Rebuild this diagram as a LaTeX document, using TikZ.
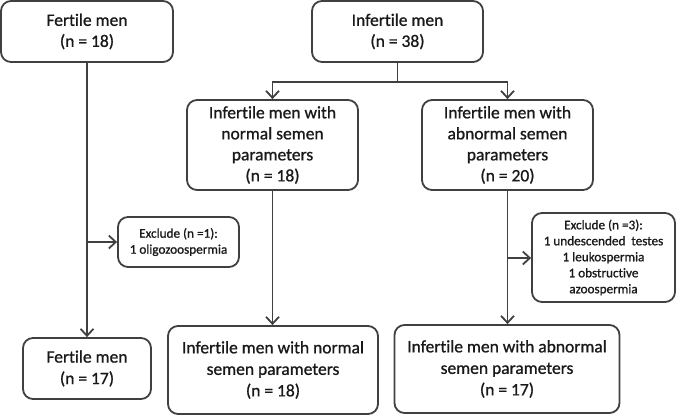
\documentclass[tikz,border=0pt]{standalone}
\usepackage{fontspec}
\setmainfont{Carlito}[Ligatures=NoCommon,FakeBold=1]
\usetikzlibrary{arrows.meta}
\definecolor{ln}{HTML}{404040}
\begin{document}
\begin{tikzpicture}[x=1pt,y=-1pt,
  box/.style={draw=ln,line width=1.8pt,rounded corners=10pt,align=center,inner sep=0pt,text=black!90},
  bigtxt/.style={font=\fontsize{17.5}{21}\selectfont},
  bottxt/.style={font=\fontsize{17.5}{21.5}\selectfont},
  smalltxt/.style={font=\fontsize{13.2}{16}\selectfont},
  arr/.style={draw=ln,line width=1.8pt,-{Straight Barb[length=7pt,width=13pt,line width=1.8pt]}},
  ln/.style={draw=ln,line width=1.8pt}]
\useasboundingbox (0,0) rectangle (677,416);
\node[box,bigtxt,minimum width=172pt,minimum height=61pt] (f1) at (87,31.5) {Fertile men\\(n = 18)};
\node[box,bigtxt,minimum width=171pt,minimum height=61pt] (i1) at (397.5,31.5) {Infertile men\\(n = 38)};
\node[box,bigtxt,minimum width=171pt,minimum height=90pt] (n1) at (272.5,145) {Infertile men with\\normal semen\\parameters\\(n = 18)};
\node[box,bigtxt,minimum width=171pt,minimum height=90pt] (a1) at (507.5,145) {Infertile men with\\abnormal semen\\parameters\\(n = 20)};
\node[box,smalltxt,minimum width=121pt,minimum height=50pt] (e1) at (178.5,242) {Exclude (n =1):\\1 oligozoospermia};
\node[box,smalltxt,minimum width=143pt,minimum height=89pt] (e2) at (603.5,257.5) {Exclude (n =3):\\1 undescended\ \ testes\\1 leukospermia\\1 obstructive\\azoospermia};
\node[box,bottxt,minimum width=128pt,minimum height=61pt] (f2) at (87,368.5) {Fertile men\\(n = 17)};
\node[box,bottxt,minimum width=210pt,minimum height=88pt] (n2) at (273,370) {Infertile men with normal\\semen parameters\\(n = 18)};
\node[box,bottxt,minimum width=225pt,minimum height=88pt] (a2) at (507,369) {Infertile men with abnormal\\semen parameters\\(n = 17)};
\coordinate (j) at (397.5,82);
\coordinate (jl) at (272.5,82);
\coordinate (jr) at (507.5,82);
\coordinate (b1) at (87,242);
\coordinate (b2) at (507.5,258);
\draw[ln] (i1.south) -- (j);
\draw[arr] (j) -- (jl) -- (n1.north);
\draw[arr] (j) -- (jr) -- (a1.north);
\draw[arr] (f1.south) -- (f2.north);
\draw[arr] (b1) -- (e1.west);
\draw[arr] (n1.south) -- (n2.north -| n1.south);
\draw[arr] (a1.south -| b2) -- (a2.north -| b2);
\draw[arr] (b2) -- (e2.west |- b2);
\end{tikzpicture}
\end{document}
